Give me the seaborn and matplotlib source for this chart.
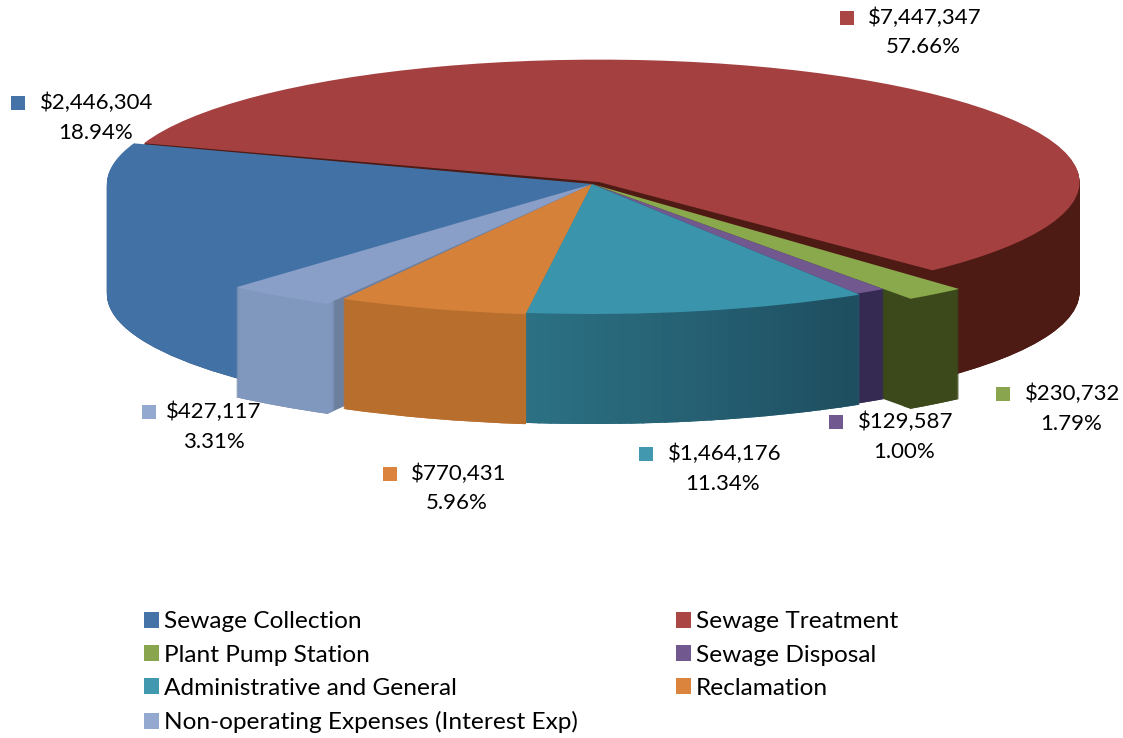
import matplotlib
matplotlib.use("Agg")
import matplotlib.pyplot as plt
import numpy as np
import seaborn as sns
from matplotlib.patches import Wedge, Rectangle
from matplotlib.colors import to_rgb

categories = ["Sewage Collection", "Sewage Treatment", "Plant Pump Station", "Sewage Disposal",
              "Administrative and General", "Reclamation", "Non-operating Expenses (Interest Exp)"]
amounts = [2446304, 7447347, 230732, 129587, 1464176, 770431, 427117]
percents = ["18.94%", "57.66%", "1.79%", "1.00%", "11.34%", "5.96%", "3.31%"]
legend_colors = ["#4673A7", "#AA4643", "#89A54E", "#71588F", "#4198AF", "#DB843D", "#93A9CF"]
top_colors = ["#4272A5", "#A54040", "#8AA84C", "#71588F", "#3A94AC", "#D5813A", "#8A9FC8"]
arc_start = ["#4272A5", "#4D1A14", "#3C4A1B", "#352A52", "#2C7184", "#B86F2E", "#8097BE"]
arc_end = ["#4272A5", "#4D1A14", "#3C4A1B", "#352A52", "#1E4E60", "#B86F2E", "#8097BE"]
side_colors = ["#1F3F6E", "#4D1A14", "#3C4A1B", "#352A52", "#2C7184", "#B86F2E", "#6D7F9E"]
radius_scale = [0.99, 0.98, 1.125, 1.03, 1.04, 1.05, 1.10]
shift = [(0, 0), (0.015, 0.015), (0, 0), (0, 0), (0, 0), (0, 0), (0, 0)]
angle_offset = [1.5, 2.2, 0, 0, 0, 1.7, 1.2]
trim_start = [0, 0, 0, 0, 1.7, 0, 0]
draw_order = [1, 0, 2, 3, 6, 5, 4]
label_pos = [(97, 103, 96, 133, 11), (925, 18, 923, 47, 840), (1073, 394, 1071, 424, 996),
             (906, 422, 904, 452, 829), (725, 454, 723, 484, 639), (459, 474, 457, 503, 383),
             (214, 412, 214, 442, 142)]

W, H = 1123, 738
CX, CY, A, B, DEPTH = 592, 184, 490, 125, 110

sns.set_theme(style="white")
plt.rcParams["font.family"] = ["Lato", "DejaVu Sans"]
fig = plt.figure(figsize=(W / 100, H / 100), dpi=100, facecolor="white")
ax = fig.add_axes([0, 0, 1, 1])
palette = sns.color_palette(legend_colors)

wedges, _ = ax.pie(amounts, startangle=227.5, counterclock=False, colors=top_colors,
                   wedgeprops={"linewidth": 0})
ax.set_aspect("auto")
ax.set_xlim((0 - CX) / A, (W - CX) / A)
ax.set_ylim((CY - H) / B, CY / B)
ax.axis("off")

z = 10
for i in draw_order:
    w = wedges[i]
    r = radius_scale[i]
    sx, sy = shift[i]
    t1 = w.theta1 + angle_offset[i] + trim_start[i]
    t2 = w.theta2 + angle_offset[i]
    for k in range(DEPTH, 0, -1):
        ax.add_patch(Wedge((sx, sy - k / B), r, t1, t2, fc=side_colors[i], lw=0, zorder=z))
        z += 1
    c0, c1 = np.array(to_rgb(arc_start[i])), np.array(to_rgb(arc_end[i]))
    n = 30 if arc_start[i] != arc_end[i] else 1
    edges = np.linspace(t1, t2, n + 1)
    for j in range(n):
        col = c0 + (c1 - c0) * (j + 0.5) / n
        hi = min(edges[j + 1] + 0.3, t2)
        for k in range(DEPTH, 0, -1):
            ax.add_patch(Wedge((sx, sy - k / B), r, edges[j], hi, width=0.03, fc=col, lw=0, zorder=z))
            z += 1
    w.set_center((sx, sy))
    w.set_radius(r)
    w.set_theta1(t1)
    w.set_theta2(t2)
    w.set_zorder(z)
    z += 1

FS = 16
for i in range(len(amounts)):
    tx, ty, px, py, mx = label_pos[i]
    fig.text(tx / W, 1 - ty / H, f"${amounts[i]:,}", ha="center", va="center", fontsize=FS,
             color="black", parse_math=False)
    fig.text(px / W, 1 - py / H, percents[i], ha="center", va="center", fontsize=FS,
             color="black", parse_math=False)
    fig.add_artist(Rectangle((mx / W, 1 - (ty + 7) / H), 14 / W, 14 / H,
                             transform=fig.transFigure, fc=palette[i], lw=0))

handles = [Rectangle((0, 0), 1, 1, fc=c, lw=0) for c in palette]
col_order = [0, 2, 4, 6, 1, 3, 5]
ax.legend([handles[i] for i in col_order], [categories[i] for i in col_order],
          ncol=2, loc="upper left", bbox_to_anchor=(122 / W, 1 - 589.5 / H), frameon=False,
          fontsize=17.6, handlelength=0.62, handleheight=0.62, handletextpad=0.2,
          labelspacing=0.5, columnspacing=4.0, borderpad=0.4, labelcolor="black")

fig.savefig("out.png", dpi=100, facecolor="white")
